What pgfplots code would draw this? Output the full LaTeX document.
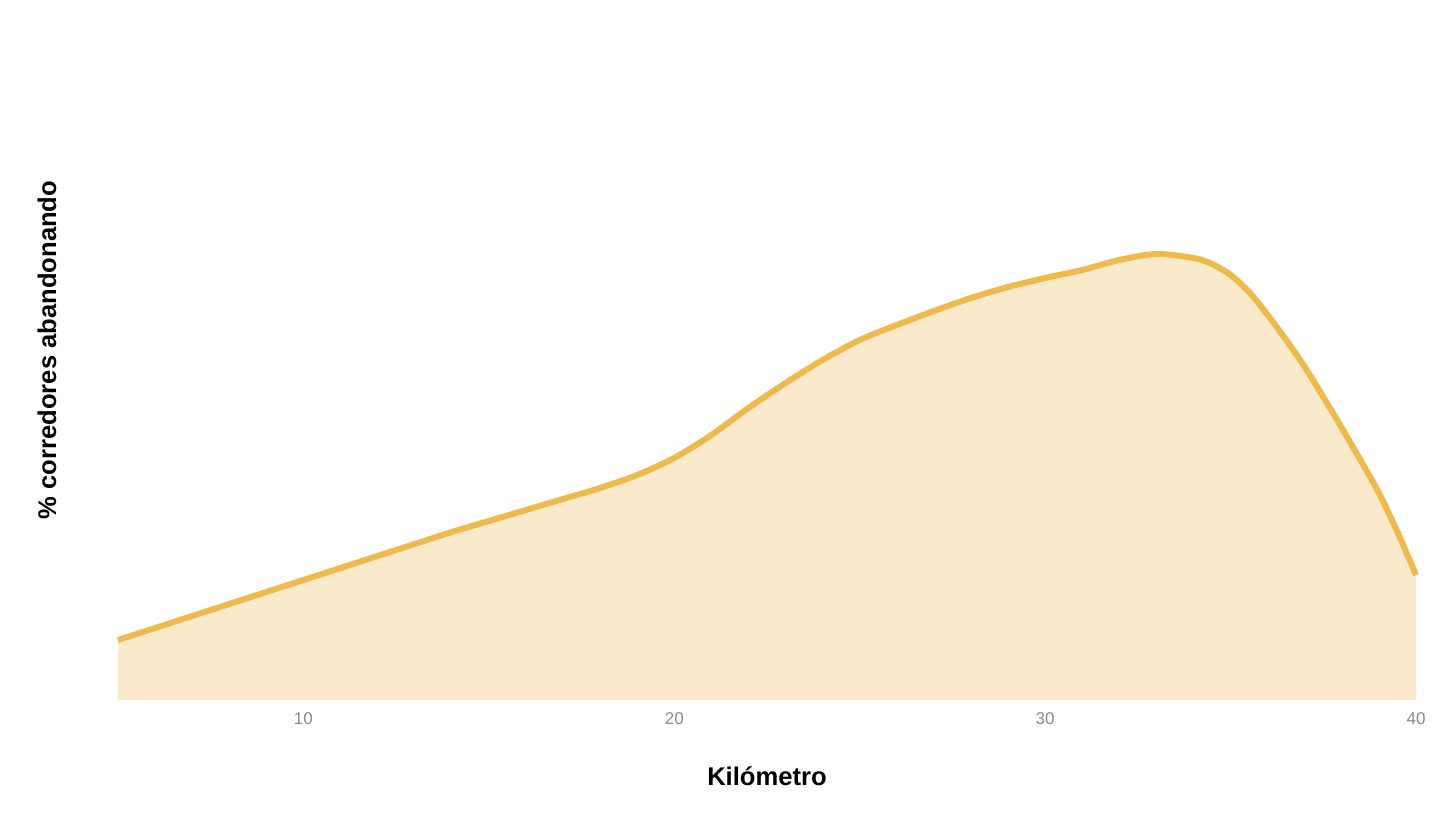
\documentclass[border=0pt]{standalone}
\usepackage{fontspec}
\setmainfont{Liberation Sans}
\usepackage{pgfplots}
\pgfplotsset{compat=1.18}

\definecolor{curve}{HTML}{F0B94B}
\definecolor{area}{HTML}{FAEACB}
\definecolor{ticktext}{HTML}{8A8A8A}

\pgfplotstableread{
km    pct
5     60
6     72
7     84
8     96
9     108
10    120
11    132
12    144
13    156
14    168
15    179
16    190
17    201
18    212
19    225
20    242
21    265
22    292
23    317
24    340
25    360
26    375
27    389
28    402
29    413
30    422
31    430
32    440
33    446
34    442
34.5  436
35    425
35.5  408
36    385
36.5  360
37    333
37.5  303
38    272
38.5  240
39    207
39.5  168
40    125
}\dropdata

\begin{document}
\begin{tikzpicture}
\begin{axis}[
    scale only axis,
    width=649pt,
    height=350pt,
    xmin=5, xmax=40,
    ymin=0, ymax=700,
    axis line style={draw=none},
    xtick={10,20,30,40},
    ytick=\empty,
    major tick length=0pt,
    xtick style={draw=none},
    /pgf/number format/assume math mode=true,
    xticklabel style={font=\fontsize{8.5}{10}\selectfont, text=ticktext, yshift=-3pt},
    xlabel={\textbf{Kilómetro}},
    ylabel={\textbf{\% corredores abandonando}},
    xlabel style={font=\fontsize{12.8}{15}\selectfont, at={(axis description cs:0.5,0)}, anchor=center, yshift=-38pt},
    ylabel style={font=\fontsize{12.8}{15}\selectfont, at={(axis description cs:0,0.5)}, anchor=center, yshift=35.5pt},
    clip=false,
]
% fill under the curve
\addplot[fill=area, draw=none, smooth] table[x=km, y=pct] {\dropdata} \closedcycle;
% curve
\addplot[curve, line width=3pt, smooth] table[x=km, y=pct] {\dropdata};
\end{axis}
\path ([xshift=-59pt, yshift=-61.5pt]current axis.south west) rectangle ([xshift=20pt]current axis.north east);
\end{tikzpicture}
\end{document}
